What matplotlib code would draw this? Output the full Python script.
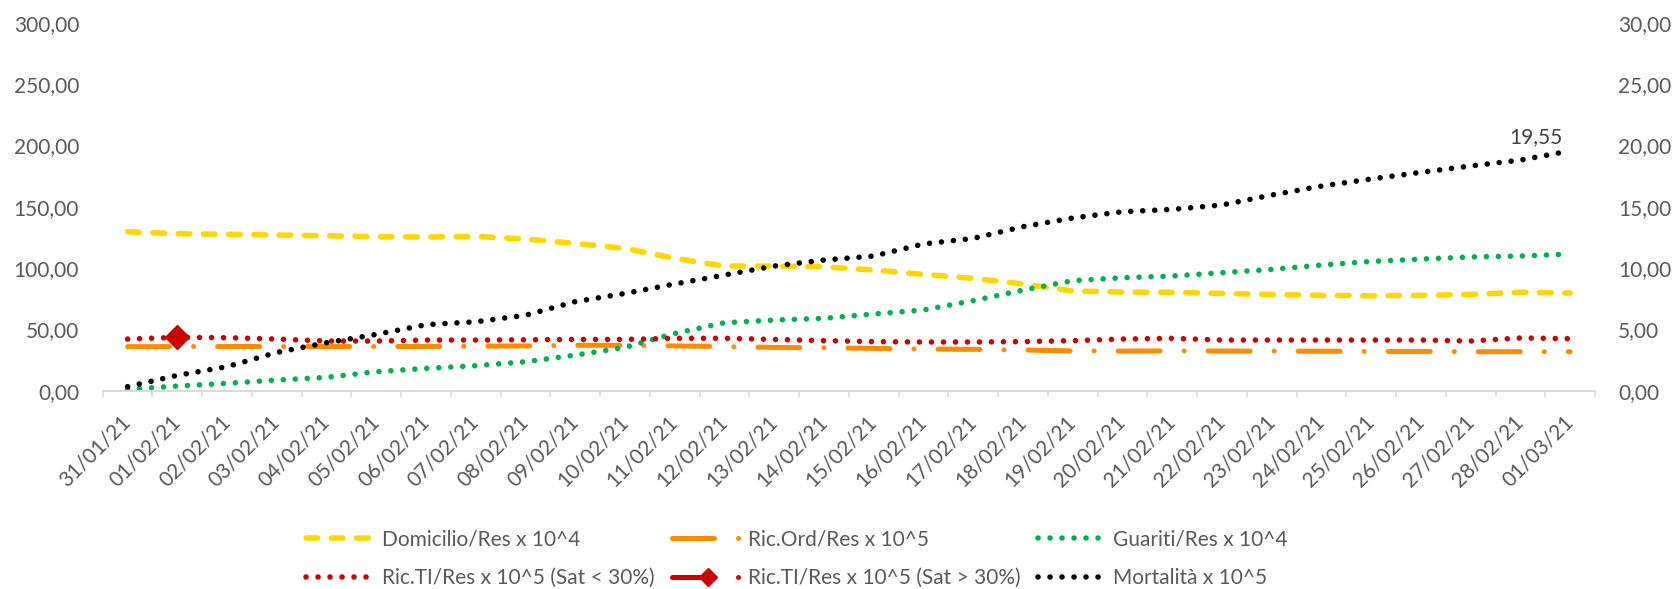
import numpy as np
import matplotlib
matplotlib.use("Agg")
import matplotlib.pyplot as plt
from matplotlib.ticker import FixedLocator, FuncFormatter

plt.rcParams["font.family"] = ["Lato", "DejaVu Sans"]

TEXT = "#595959"

dates = [
    "31/01/21", "01/02/21", "02/02/21", "03/02/21", "04/02/21", "05/02/21",
    "06/02/21", "07/02/21", "08/02/21", "09/02/21", "10/02/21", "11/02/21",
    "12/02/21", "13/02/21", "14/02/21", "15/02/21", "16/02/21", "17/02/21",
    "18/02/21", "19/02/21", "20/02/21", "21/02/21", "22/02/21", "23/02/21",
    "24/02/21", "25/02/21", "26/02/21", "27/02/21", "28/02/21", "01/03/21",
]

# left axis
domicilio = [129.6, 128.0, 127.5, 126.9, 126.3, 125.5, 125.3, 125.8, 123.6, 120.1,
             116.0, 107.9, 101.6, 101.6, 101.0, 98.4, 94.8, 91.6, 87.0, 81.3,
             80.4, 80.2, 79.3, 78.5, 77.7, 77.4, 77.7, 78.5, 80.3, 79.6]
ric_ord = [35.9, 36.0, 36.1, 36.0, 36.0, 36.0, 36.1, 36.3, 36.5, 37.0,
           37.0, 36.5, 36.0, 35.3, 35.0, 34.5, 34.0, 33.7, 33.2, 32.5,
           32.3, 32.5, 32.3, 32.3, 32.2, 32.0, 32.0, 31.8, 31.8, 31.8]
guariti = [1.1, 3.8, 6.0, 8.7, 10.9, 15.5, 18.2, 20.4, 23.6, 29.0,
           35.3, 46.7, 55.4, 57.6, 59.0, 62.5, 65.8, 73.4, 82.0, 89.7,
           92.1, 93.5, 96.2, 98.9, 102.4, 105.4, 107.3, 109.0, 109.8, 111.4]
ric_ti_low = [42.1, 43.5, 43.2, 42.1, 40.5, 40.5, 41.3, 41.3, 41.5, 41.8,
              41.8, 42.7, 42.7, 41.8, 40.8, 40.0, 39.7, 39.7, 40.0, 40.8,
              42.1, 42.7, 41.3, 41.3, 41.3, 41.3, 41.3, 40.5, 43.0, 42.4]
ric_ti_high = [np.nan, 43.5] + [np.nan] * 28

# right axis
mortalita = [0.33, 1.25, 1.96, 3.12, 3.91, 4.59, 5.38, 5.62, 6.15, 7.26,
             7.93, 8.70, 9.43, 10.16, 10.65, 10.98, 11.96, 12.42, 13.37, 14.08,
             14.59, 14.78, 15.14, 15.95, 16.68, 17.26, 17.80, 18.32, 18.80, 19.55]

W, H = 1679, 589
fig = plt.figure(figsize=(W / 100, H / 100), dpi=100)
ax = fig.add_axes([102.7 / W, 1 - 390.7 / H, (1595 - 102.7) / W, (390.7 - 22.7) / H])
ax2 = ax.twinx()

x = np.arange(len(dates))

dot = dict(lw=4.0, dashes=(0.01, 2.15), dash_capstyle="round")
dash_dot = dict(lw=3.6, dashes=(8.4, 4.8, 0.01, 4.8), dash_capstyle="round")

l_dom, = ax.plot(x, domicilio, color="#FFD700", lw=4.0,
                 dashes=(2.1, 2.45), dash_capstyle="round",
                 label="Domicilio/Res x 10^4")
l_ord, = ax.plot(x, ric_ord, color="#FF8C00", label="Ric.Ord/Res x 10^5", **dash_dot)
l_gua, = ax.plot(x, guariti, color="#00B050", label="Guariti/Res x 10^4", **dot)
l_low, = ax.plot(x, ric_ti_low, color="#CC0000",
                 label="Ric.TI/Res x 10^5 (Sat < 30%)", **dot)
l_high, = ax.plot(x, ric_ti_high, color="#CC0000", marker="D", markersize=12,
                  label="Ric.TI/Res x 10^5 (Sat > 30%)", **dash_dot)
l_mor, = ax2.plot(x, mortalita, color="black", label="Mortalità x 10^5", **dot)

ax2.annotate(f"{mortalita[-1]:.2f}".replace(".", ","), (x[-1], mortalita[-1]),
             xytext=(-8, 8), textcoords="offset pixels", ha="right", va="baseline",
             fontsize=15, color="#404040")

comma = FuncFormatter(lambda v, _: f"{v:.2f}".replace(".", ","))
ax.set_ylim(0, 300)
ax.set_yticks(np.arange(0, 301, 50))
ax.yaxis.set_major_formatter(comma)
ax2.set_ylim(0, 30)
ax2.set_yticks(np.arange(0, 31, 5))
ax2.yaxis.set_major_formatter(comma)

ax.set_xlim(-0.5, len(dates) - 0.5)
ax.set_xticks(x)
ax.set_xticklabels(dates, rotation=45, ha="right", va="center", rotation_mode="anchor")
ax.xaxis.set_minor_locator(FixedLocator(np.arange(-0.5, len(dates), 1)))

for a in (ax, ax2):
    for s in a.spines.values():
        s.set_visible(False)
ax.spines["bottom"].set_visible(True)
ax.spines["bottom"].set_color("#D9D9D9")
ax.spines["bottom"].set_linewidth(1.4)

ax.tick_params(axis="x", which="major", length=0, pad=20, labelsize=15, labelcolor=TEXT)
ax.tick_params(axis="x", which="minor", length=4.3, width=1.2, color="#D9D9D9")
ax.tick_params(axis="y", length=0, pad=17, labelsize=15, labelcolor=TEXT)
ax2.tick_params(axis="y", length=0, pad=16.5, labelsize=15, labelcolor=TEXT)

# legend filled column by column, so order gives three columns of two rows
handles = [l_dom, l_low, l_ord, l_high, l_gua, l_mor]
fig.legend(handles=handles, labels=[h.get_label() for h in handles],
           loc="upper left", bbox_to_anchor=(296 / W, 1 - 519 / H), ncol=3,
           frameon=False, fontsize=15, labelcolor=TEXT, borderpad=0,
           handlelength=3.45, handletextpad=0.17, columnspacing=0.85,
           labelspacing=0.9, markerscale=0.75)

fig.savefig("out.png", dpi=100)
